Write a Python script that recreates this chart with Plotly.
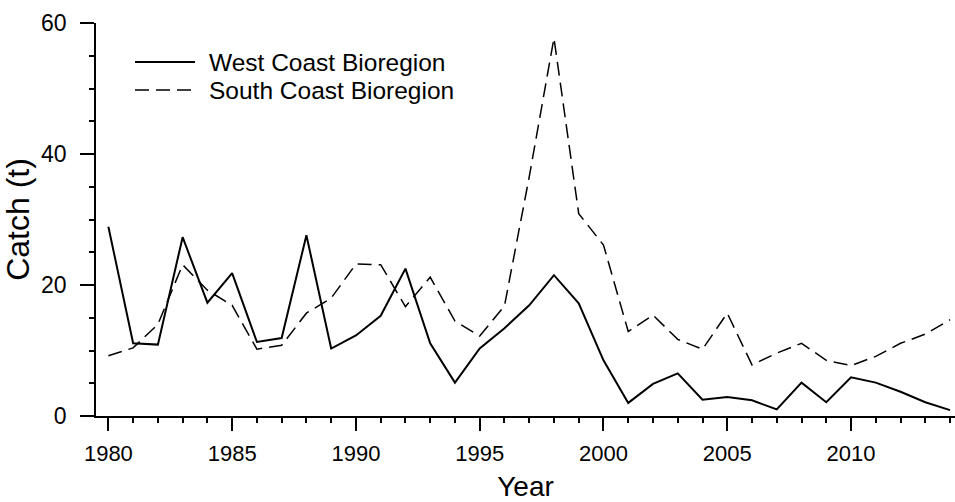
import plotly.graph_objects as go

years = list(range(1980, 2015))
west_coast = [28.9, 11.1, 10.9, 27.3, 17.3, 21.8, 11.3, 11.9, 27.6, 10.3,
              12.3, 15.3, 22.5, 11.1, 5.1, 10.3, 13.4, 16.9, 21.5, 17.2,
              8.5, 2.0, 4.9, 6.5, 2.5, 2.9, 2.4, 1.0, 5.1, 2.1,
              5.9, 5.1, 3.7, 2.1, 0.9]
south_coast = [9.2, 10.4, 14.0, 23.1, 19.2, 16.9, 10.2, 10.8, 15.7, 18.0,
               23.2, 23.1, 16.7, 21.2, 14.5, 12.2, 16.8, 36.5, 57.7, 30.9,
               26.1, 12.9, 15.4, 11.7, 10.2, 15.7, 7.8, 9.6, 11.1, 8.5,
               7.7, 9.1, 11.1, 12.5, 14.7]
series_names = ["West Coast Bioregion", "South Coast Bioregion"]
x_ticks = [1980, 1985, 1990, 1995, 2000, 2005, 2010]
y_ticks = [0, 20, 40, 60]

styles = [dict(color="black", width=2), dict(color="black", width=1.5, dash="14px,7px")]

fig = go.Figure()
for name, vals, st in zip(series_names, [west_coast, south_coast], styles):
    fig.add_trace(go.Scatter(x=years, y=vals, mode="lines", name=name, line=st,
                             showlegend=False))

font = "Liberation Sans, Arial, sans-serif"

# manual legend (compact row spacing like the reference)
L, T, W, H = 96, 23, 859, 393
def px(xp):
    return (xp - L) / W
def py(yp):
    return (T + H - yp) / H
for i, (name, st) in enumerate(zip(series_names, styles)):
    yrow = 62 + 28 * i
    fig.add_shape(type="line", xref="paper", yref="paper",
                  x0=px(135), x1=px(195), y0=py(yrow), y1=py(yrow),
                  line=dict(color=st["color"], width=st["width"], dash=st.get("dash", "solid")))
    fig.add_annotation(xref="paper", yref="paper", x=px(207), y=py(yrow),
                       xanchor="left", yanchor="middle", text=name, showarrow=False,
                       font=dict(size=24.5, family=font, color="black"))

fig.update_layout(
    width=955, height=502,
    margin=dict(l=L, r=0, t=T, b=502 - T - H),
    plot_bgcolor="white", paper_bgcolor="white",
    font=dict(family=font, color="black", size=23),
    showlegend=False,
    xaxis=dict(range=[1979.5, 2014.2], tickvals=x_ticks, ticktext=[str(v) for v in x_ticks],
               showgrid=False, zeroline=False, showline=True, linecolor="black", linewidth=1.5,
               ticks="outside", ticklen=13, tickwidth=1.5, tickcolor="black",
               minor=dict(dtick=1, tick0=1980, ticks="outside", ticklen=5, tickwidth=1.5, tickcolor="black"),
               tickfont=dict(size=22), ticklabelstandoff=4,
               title=dict(text="Year", font=dict(size=28), standoff=12)),
    yaxis=dict(range=[0, 60], tickvals=y_ticks, ticktext=[str(v) for v in y_ticks],
               showgrid=False, zeroline=False, showline=True, linecolor="black", linewidth=1.5,
               ticks="outside", ticklen=14, tickwidth=1.5, tickcolor="black",
               minor=dict(dtick=5, tick0=0, ticks="outside", ticklen=5, tickwidth=1.5, tickcolor="black"),
               tickfont=dict(size=23), ticklabelstandoff=9,
               title=dict(text="Catch (t)", font=dict(size=32), standoff=2)),
)

fig.write_html("out.html")
